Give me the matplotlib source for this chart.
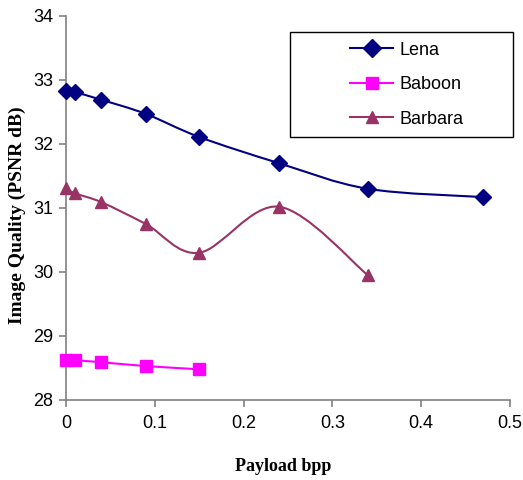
import matplotlib

matplotlib.use("Agg")

import matplotlib.pyplot as plt
import numpy as np
from matplotlib.path import Path
from matplotlib.patches import PathPatch, Rectangle

# Data
lena_x = [0.0, 0.01, 0.04, 0.09, 0.15, 0.24, 0.34, 0.47]
lena_y = [32.83, 32.81, 32.69, 32.47, 32.11, 31.70, 31.30, 31.17]
baboon_x = [0.0, 0.01, 0.04, 0.09, 0.15]
baboon_y = [28.62, 28.62, 28.59, 28.53, 28.48]
barbara_x = [0.0, 0.01, 0.04, 0.09, 0.15, 0.24, 0.34]
barbara_y = [31.31, 31.23, 31.09, 30.75, 30.30, 31.02, 29.95]

x_ticks = [0, 0.1, 0.2, 0.3, 0.4, 0.5]
x_labels = ["0", "0.1", "0.2", "0.3", "0.4", "0.5"]
y_ticks = [28, 29, 30, 31, 32, 33, 34]


def smooth_path(xs, ys, tension=1 / 6):
    """Excel-like smoothed line: cubic Bezier segments through the points."""
    p = np.column_stack([xs, ys])
    verts = [p[0]]
    codes = [Path.MOVETO]
    n = len(p)
    for i in range(n - 1):
        p0 = p[i - 1] if i > 0 else p[i]
        p3 = p[i + 2] if i + 2 < n else p[i + 1]
        c1 = p[i] + (p[i + 1] - p0) * tension
        c2 = p[i + 1] - (p3 - p[i]) * tension
        verts += [c1, c2, p[i + 1]]
        codes += [Path.CURVE4] * 3
    return Path(verts, codes)


fig = plt.figure(figsize=(5.23, 4.8), dpi=100)
ax = fig.add_axes([0.126, 0.1667, 0.849, 0.80])

series = [
    ("Lena", lena_x, lena_y, "#000080", "D", 8),
    ("Baboon", baboon_x, baboon_y, "#FF00FF", "s", 8),
    ("Barbara", barbara_x, barbara_y, "#993366", "^", 9),
]
for name, xs, ys, col, mk, ms in series:
    ax.add_patch(PathPatch(smooth_path(xs, ys), facecolor="none",
                           edgecolor=col, lw=1.5, zorder=2, clip_on=False))
    ax.plot(xs, ys, linestyle="none", marker=mk, markersize=ms, color=col,
            zorder=3, clip_on=False)
    ax.plot([], [], color=col, lw=1.5, marker=mk, markersize=ms, label=name)

ax.set_xlim(0, 0.5)
ax.set_ylim(28, 34)
ax.set_xticks(x_ticks)
ax.set_xticklabels(x_labels)
ax.set_yticks(y_ticks)
for s in ["top", "right"]:
    ax.spines[s].set_visible(False)
for s in ["left", "bottom"]:
    ax.spines[s].set_color("#808080")
    ax.spines[s].set_linewidth(1.2)
ax.tick_params(direction="out", length=5, width=1.2, color="#808080",
               labelsize=13, pad=4)
ax.tick_params(axis="x", pad=6)
for lab in ax.get_xticklabels() + ax.get_yticklabels():
    lab.set_family("Liberation Sans")

ax.set_xlabel("Payload bpp", family="Liberation Serif", fontweight="bold",
              fontsize=13)
ax.xaxis.set_label_coords(0.49, -0.15)
ax.set_ylabel("Image Quality (PSNR dB)", family="Liberation Serif",
              fontweight="bold", fontsize=14)
ax.yaxis.set_label_coords(-0.09, 0.48)

# legend box (wide frame, entries centred inside)
ax.add_patch(Rectangle((0.5045, 0.685), 0.502, 0.273, transform=ax.transAxes,
                       facecolor="white", edgecolor="black", lw=1.0,
                       clip_on=False, zorder=4))
leg = ax.legend(loc="upper left", bbox_to_anchor=(0.64, 0.933),
                prop={"family": "Liberation Sans", "size": 13},
                frameon=False, borderpad=0, labelspacing=0.97,
                handlelength=2.4, handletextpad=0.35, borderaxespad=0)
leg.set_zorder(5)
for h in leg.legend_handles:
    h.set_markersize(9)

fig.savefig("out.png", dpi=100)
